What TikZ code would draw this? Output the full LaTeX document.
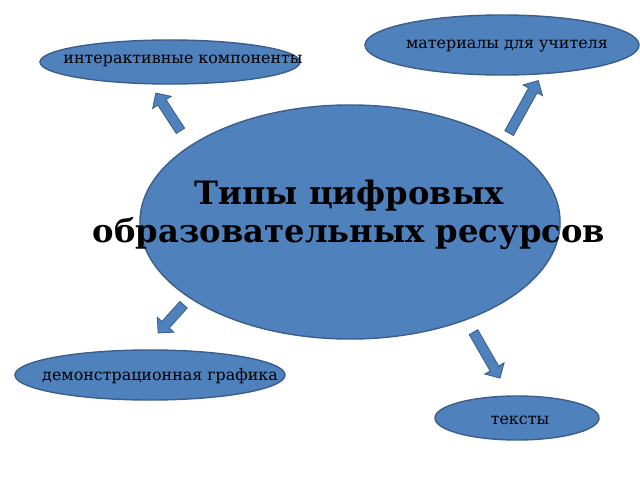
\documentclass[tikz,border=0pt]{standalone}
\usepackage{fontspec}
\setmainfont{DejaVu Serif}
\usetikzlibrary{positioning,shapes.geometric,shapes.arrows}
\definecolor{blfill}{HTML}{4F81BD}
\definecolor{bldraw}{HTML}{3B5F8C}
\tikzset{
  oval/.style={ellipse,fill=blfill,draw=bldraw,line width=1pt,inner sep=0pt},
  blk/.style={single arrow,fill=blfill,draw=bldraw,line width=0.6pt,inner xsep=0pt,inner ysep=3.2pt,
    single arrow head extend=4.4pt,single arrow head indent=0pt,
    single arrow tip angle=90,anchor=center},
  lbl/.style={font=\fontsize{11.3}{13}\selectfont}
}

\begin{document}
\begin{tikzpicture}[x=0.025cm,y=-0.025cm]
\useasboundingbox (0,0) rectangle (640,480);
\node[oval,minimum width=10.5cm,minimum height=5.85cm] (core) at (350,222) {};
\node[font=\bfseries\fontsize{22.9}{27.5}\selectfont,align=center] (title) at (349,215)
  {Типы цифровых\\образовательных ресурсов};
\node[oval,minimum width=6.85cm,minimum height=1.5cm] (teach) at (502,45) {};
\node[lbl] (teachlbl) at (507,46) {материалы для учителя};
\node[oval,minimum width=6.5cm,minimum height=1.1cm] (inter) at (170,62) {};
\node[lbl] (interlbl) at (183,61) {интерактивные компоненты};
\node[oval,minimum width=6.75cm,minimum height=1.25cm] (demo) at (150,375) {};
\node[lbl] (demolbl) at (160,376) {демонстрационная графика};
\node[oval,minimum width=4.1cm,minimum height=1.1cm] (text) at (517,418) {};
\node[lbl] (textlbl) at (520,420) {тексты};
% block arrows
\node[blk,rotate=123,minimum height=1.125cm] (atl) at (169.5,114) {};
\node[blk,rotate=61,minimum height=1.5cm] (atr) at (522.5,109) {};
\node[blk,rotate=-132,minimum height=0.95cm] (abl) at (172.5,317) {};
\node[blk,rotate=-60,minimum height=1.325cm] (abr) at (485.5,353) {};
\end{tikzpicture}
\end{document}
